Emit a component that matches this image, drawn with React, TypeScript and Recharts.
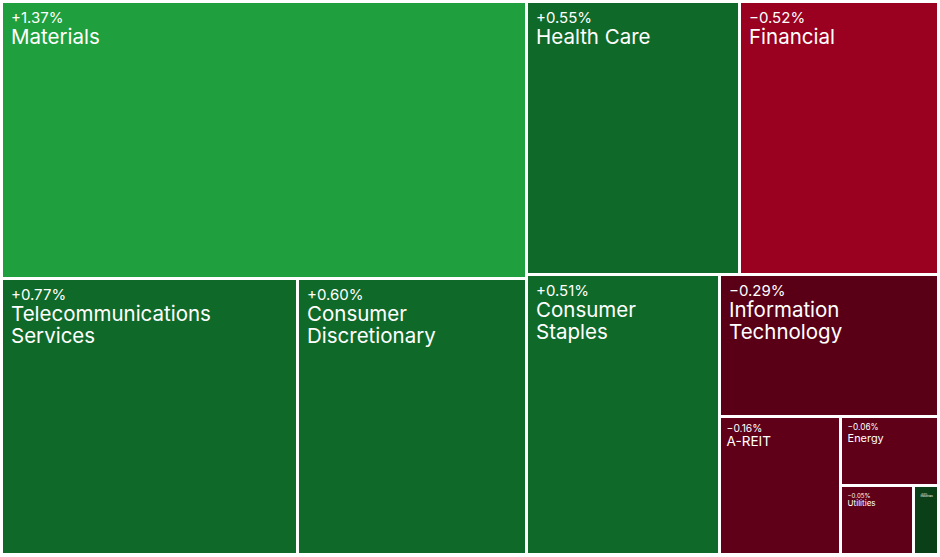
import { Treemap } from "recharts";

const sectors = [
    "Materials",
    "Telecommunications Services",
    "Consumer Discretionary",
    "Health Care",
    "Financial",
    "Consumer Staples",
    "Information Technology",
    "A-REIT",
    "Energy",
    "Utilities",
    "Industrials",
];
const changes = [1.37, 0.77, 0.6, 0.55, -0.52, 0.51, -0.29, -0.16, -0.06, -0.05, 0.01];
const weights = [28.07, 15.77, 12.2, 11.22, 10.48, 10.43, 6.0, 3.22, 1.31, 0.97, 0.33];

// nesting of sector indexes, so the squarify splits come out as in the picture
const groups = [[0, [1, 2]], [[3, 4], [5, [6, [7, [8, [9, 10]]]]]]];

type Group = number | Group[];

function build(g: Group, key: string): any {
    if (typeof g === "number") {
        return { name: sectors[g], size: weights[g], change: changes[g] };
    }
    return { name: "group-" + key, children: g.map((c, i) => build(c, key + i)) };
}

const data = (groups as Group[]).map((g, i) => build(g, String(i)));

const FONT = "Inter, 'Noto Sans', sans-serif";

let ctx: CanvasRenderingContext2D | null = null;
function textWidth(t: string, size: number) {
    if (!ctx) ctx = document.createElement("canvas").getContext("2d");
    if (!ctx) return t.length * size * 0.55;
    ctx.font = `${size}px Inter`;
    return ctx.measureText(t).width;
}

function wrap(text: string, size: number, maxW: number) {
    const words = text.split(" ");
    const lines: string[] = [];
    let cur = "";
    for (const w of words) {
        const next = cur ? cur + " " + w : w;
        if (cur && textWidth(next, size) > maxW) {
            lines.push(cur);
            cur = w;
        } else {
            cur = next;
        }
    }
    if (cur) lines.push(cur);
    return lines;
}

function colorFor(c: number) {
    if (c >= 1) return "#1f9f3d";
    if (c >= 0.3) return "#0f6a2a";
    if (c > 0) return "#0b3f18";
    if (c <= -0.5) return "#9a0020";
    if (c <= -0.2) return "#590016";
    return "#5f0018";
}

function fmt(c: number) {
    return (c >= 0 ? "+" : "\u2212") + Math.abs(c).toFixed(2) + "%";
}

function SectorCell(props: any) {
    const { x, y, width, height, children, name, change } = props;
    if (children && children.length) return null;
    if (width == null || height == null) return null;
    const left = x + 2;
    const top = y + 2;
    const w = width - 3;
    const h = height - 3;
    const nameSize = Math.min(20.5, w * 0.115);
    const pctSize = Math.min(15, w * 0.087);
    const pad = w > 150 ? 8 : 5.6;
    const lines = wrap(name, nameSize, w - 2 * pad - 6);
    const pctY = top + pad + pctSize * 0.75 + 0.5;
    return (
        <g>
            <rect x={left} y={top} width={w} height={h} fill={colorFor(change)} />
            <text x={left + pad} y={pctY} fontSize={pctSize} fill="#fff" fontFamily={FONT}>
                {fmt(change)}
            </text>
            <text fontSize={nameSize} fill="#fff" fontFamily={FONT}>
                {lines.map((l, i) => (
                    <tspan key={i} x={left + pad} y={pctY + nameSize * 1.05 * (i + 1)}>
                        {l}
                    </tspan>
                ))}
            </text>
        </g>
    );
}

export default function App() {
    return (
        <div style={{ position: "absolute", left: 1, top: 1, width: 937, height: 553 }}>
            <Treemap
                width={937}
                height={553}
                data={data}
                dataKey="size"
                aspectRatio={1}
                isAnimationActive={false}
                content={<SectorCell />}
            />
        </div>
    );
}
